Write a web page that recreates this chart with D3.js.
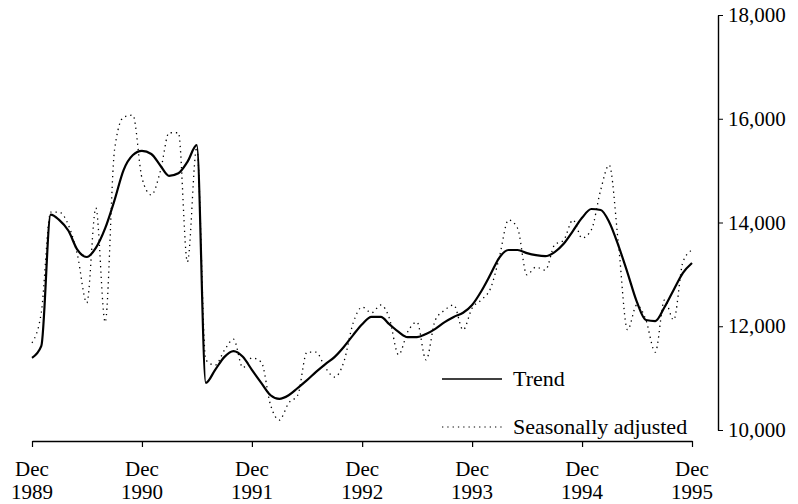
<!DOCTYPE html>
<html>
<head>
<meta charset="utf-8">
<script src="https://cdn.jsdelivr.net/npm/d3@7"></script>
<style>
  body { margin: 0; background: #fff; }
  text { font-family: "Liberation Serif", "DejaVu Serif", serif; fill: #000; }
</style>
</head>
<body>
<svg width="798" height="504"></svg>
<script>
// monthly, Dec 1989 .. Dec 1995
const trend = [
  11390,
  11620, 14150, 14050, 13840, 13470, 13335, 13510, 13890, 14430, 15010, 15300, 15380,
  15320, 15090, 14900, 14950, 15170, 15490, 10910, 11160, 11410, 11520, 11410, 11160,
  10910, 10670, 10600, 10670, 10810, 10960, 11120, 11270, 11410, 11600, 11830, 12040,
  12180, 12180, 12040, 11890, 11790, 11790, 11850, 11950, 12080, 12180, 12260, 12410,
  12680, 13010, 13320, 13470, 13470, 13410, 13370, 13350, 13430, 13590, 13840, 14090,
  14260, 14240, 14010, 13550, 13030, 12470, 12120, 12100, 12370, 12700, 13030, 13220
];
const seasAdj = [
  11680,
  12270, 14200, 14200, 13950, 13370, 12450, 14280, 12080, 15400, 16030, 16070, 14860,
  14530, 15010, 15730, 15730, 13240, 15450, 11350, 11250, 11540, 11750, 11200, 11390,
  11310, 10480, 10190, 10520, 10670, 11500, 11500, 11200, 11020, 11310, 12060, 12370,
  12260, 12410, 12160, 11450, 11890, 12080, 11350, 12120, 12310, 12410, 11930, 12350,
  12510, 12740, 13320, 14050, 13890, 12990, 13140, 13080, 13570, 13660, 14050, 13700,
  13860, 14630, 15110, 13570, 11930, 12410, 12120, 11500, 12510, 12120, 13240, 13470
];
const years = [1989, 1990, 1991, 1992, 1993, 1994, 1995];
const yTicks = [10000, 12000, 14000, 16000, 18000];
const legendLabels = ["Trend", "Seasonally adjusted"];

const svg = d3.select("svg");
const start = new Date(1989, 11, 1);
const dates = trend.map((d, i) => d3.timeMonth.offset(start, i));

const x = d3.scaleTime()
  .domain([start, new Date(1995, 11, 1)])
  .range([32, 692]);
const y = d3.scaleLinear()
  .domain([10000, 18000])
  .range([430, 15]);

// x axis
const xAxis = svg.append("g")
  .attr("transform", "translate(0,441)")
  .call(d3.axisBottom(x)
    .tickValues(years.map(yr => new Date(yr, 11, 1)))
    .tickSize(6)
    .tickSizeOuter(0)
    .tickFormat(""));
xAxis.select(".domain").attr("stroke-width", 1.4);
xAxis.selectAll(".tick line").attr("stroke-width", 1.2);

const xl = svg.append("g");
years.forEach(yr => {
  const t = xl.append("text")
    .attr("x", x(new Date(yr, 11, 1)))
    .attr("text-anchor", "middle")
    .style("font-size", "21px");
  t.append("tspan").attr("x", x(new Date(yr, 11, 1))).attr("y", 476).text("Dec");
  t.append("tspan").attr("x", x(new Date(yr, 11, 1))).attr("y", 499).text(yr);
});

// y axis on the right
const yAxis = svg.append("g")
  .attr("transform", "translate(718,0)")
  .call(d3.axisRight(y)
    .tickValues(yTicks)
    .tickSize(5)
    .tickSizeOuter(0)
    .tickPadding(5)
    .tickFormat(d3.format(",")));
yAxis.select(".domain").attr("stroke-width", 1.4);
yAxis.selectAll("text")
  .style("font-size", "21px")
  .style("font-family", "'Liberation Serif', serif");

// lines
const line = d3.line()
  .x((d, i) => x(dates[i]))
  .y(d => y(d))
  .curve(d3.curveMonotoneX);

svg.append("path")
  .datum(seasAdj)
  .attr("d", line)
  .attr("fill", "none")
  .attr("stroke", "#000")
  .attr("stroke-width", 1.3)
  .attr("stroke-dasharray", "1.3,4");

svg.append("path")
  .datum(trend)
  .attr("d", line)
  .attr("fill", "none")
  .attr("stroke", "#000")
  .attr("stroke-width", 2.2);

// legend
const lg = svg.append("g");
lg.append("line")
  .attr("x1", 442).attr("x2", 502).attr("y1", 379).attr("y2", 379)
  .attr("stroke", "#000").attr("stroke-width", 1.3);
lg.append("line")
  .attr("x1", 442).attr("x2", 502).attr("y1", 427).attr("y2", 427)
  .attr("stroke", "#000").attr("stroke-width", 1.2)
  .attr("stroke-dasharray", "1.3,4");
lg.selectAll("text")
  .data(legendLabels)
  .enter()
  .append("text")
  .attr("x", 513)
  .attr("y", (d, i) => 386 + i * 48)
  .style("font-size", "22px")
  .text(d => d);
</script>
</body>
</html>
